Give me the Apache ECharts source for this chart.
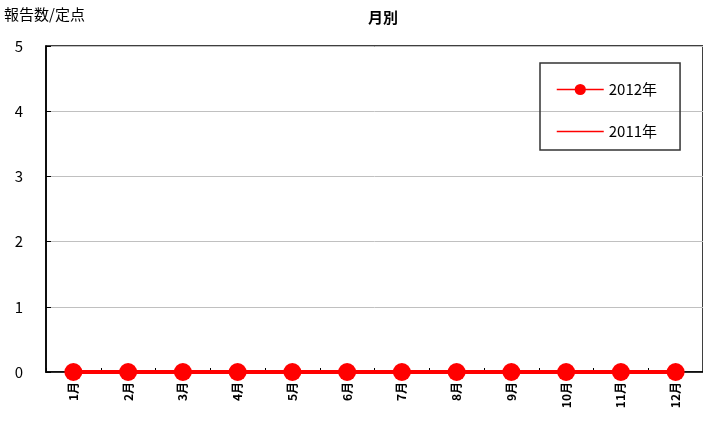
<!DOCTYPE html>
<html>
<head>
<meta charset="utf-8">
<script src="https://cdn.jsdelivr.net/npm/echarts@6/dist/echarts.min.js"></script>
<style>
html,body{margin:0;padding:0;background:#fff;}
#main{width:703px;height:423px;}
</style>
</head>
<body>
<div id="main"></div>
<script>
var months = ['1月','2月','3月','4月','5月','6月','7月','8月','9月','10月','11月','12月'];
var data2012 = [0,0,0,0,0,0,0,0,0,0,0,0];
var data2011 = [0,0,0,0,0,0,0,0,0,0,0,0];
var yTicks = [0,1,2,3,4,5];

var font = '"Noto Sans CJK JP", "DejaVu Sans", sans-serif';
var chart = echarts.init(document.getElementById('main'));
chart.setOption({
  backgroundColor: '#fff',
  animation: false,
  textStyle: {fontFamily: font},
  title: {
    text: '月別', left: 378, top: 5, textAlign: 'center',
    textStyle: {fontSize: 15, fontWeight: 'bold', color: '#000', fontFamily: font}
  },
  graphic: [{
    type: 'text', left: 4, top: 7,
    style: {text: '報告数/定点', fontSize: 15, fill: '#000', fontFamily: font}
  }],
  legend: {
    orient: 'vertical', left: 540, top: 63,
    padding: [19, 23, 11, 16],
    itemGap: 27, itemWidth: 47, itemHeight: 14,
    borderColor: '#333', borderWidth: 1.5,
    textStyle: {fontSize: 15, color: '#000', fontFamily: font},
    data: [
      {name: '2012年', lineStyle: {width: 1.5}},
      {name: '2011年', icon: 'path://M0,0L47,0L47,1.5L0,1.5Z', lineStyle: {width: 1.5}}
    ]
  },
  grid: {
    left: 46, right: -4.5, top: 46, bottom: 51,
    show: true, borderColor: '#000', borderWidth: 1.5, backgroundColor: '#fff'
  },
  xAxis: {
    type: 'category', data: months, boundaryGap: true,
    axisLine: {lineStyle: {color: '#000', width: 1.5}},
    axisTick: {show: true, inside: true, length: 4, lineStyle: {color: '#000'}},
    axisLabel: {rotate: 90, fontSize: 12, fontWeight: 'bold', color: '#000', margin: 10, fontFamily: font},
    splitLine: {show: false}
  },
  yAxis: {
    type: 'value', min: yTicks[0], max: yTicks[yTicks.length - 1], interval: 1,
    axisLine: {show: true, lineStyle: {color: '#000', width: 1.5}},
    axisTick: {show: true, inside: true, length: 5, lineStyle: {color: '#000'}},
    axisLabel: {fontSize: 15, color: '#000', margin: 23, fontFamily: font},
    splitLine: {show: true, lineStyle: {color: '#c0c0c0', width: 1}}
  },
  series: [
    {
      name: '2012年', type: 'line', data: data2012, z: 10, clip: false,
      symbol: 'circle', symbolSize: 18, showSymbol: true,
      itemStyle: {color: '#ff0000', borderWidth: 0},
      lineStyle: {color: '#ff0000', width: 4}
    },
    {
      name: '2011年', type: 'line', data: data2011, z: 9, clip: false,
      symbol: 'none', showSymbol: false,
      itemStyle: {color: '#ff0000'},
      lineStyle: {color: '#ff0000', width: 1.5}
    }
  ]
});
</script>
</body>
</html>
